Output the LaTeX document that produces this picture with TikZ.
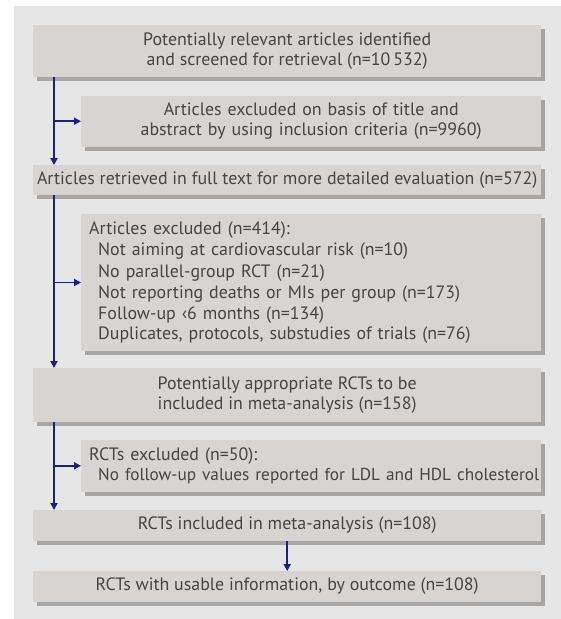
\documentclass[tikz,border=0pt]{standalone}
\usepackage{fontspec}
\setmainfont{PT Sans}
\usetikzlibrary{shadows,arrows.meta}
\definecolor{bggray}{HTML}{E6E6E6}
\definecolor{boxgray}{HTML}{D8D4D1}
\definecolor{shgray}{HTML}{A8A6A4}
\definecolor{txtgray}{HTML}{454545}
\definecolor{navy}{HTML}{1E2277}
\tikzset{
  flowbox/.style={draw=none, fill=boxgray, anchor=north west, inner sep=0pt,
    font=\fontsize{17.9}{20}\selectfont, text=txtgray,
    drop shadow={shadow xshift=4pt, shadow yshift=-4pt, fill=shgray, opacity=1}},
  widebox/.style={flowbox, minimum width=508pt, align=center},
  narrowbox/.style={flowbox, minimum width=460pt, text width=444pt, inner xsep=8pt, align=left},
  flowarrow/.style={draw=navy, line width=1.8pt, -{Triangle[length=7pt,width=7pt]}}
}
\begin{document}
\begin{tikzpicture}[x=1pt,y=-1pt]
\useasboundingbox (0,0) rectangle (561,619);
\fill[bggray] (14,6) rectangle (561,619);
\node[widebox, minimum height=51.7pt] (b1) at (33,25) {Potentially relevant articles identified\\and screened for retrieval (n=10\,532)};
\node[narrowbox, minimum height=51pt, align=center] (b2) at (81,95.7) {Articles excluded on basis of title and\\abstract by using inclusion criteria (n=9960)};
\node[widebox, minimum height=30pt] (b3) at (33,165) {Articles retrieved in full text for more detailed evaluation (n=572)};
\node[narrowbox, minimum height=137pt] (b4) at (81,214) {\fontsize{17.9}{21.4}\selectfont Articles excluded (n=414):\\
\hspace*{9pt}Not aiming at cardiovascular risk (n=10)\\
\hspace*{9pt}No parallel-group RCT (n=21)\\
\hspace*{9pt}Not reporting deaths or MIs per group (n=173)\\
\hspace*{9pt}Follow-up ‹6 months (n=134)\\
\hspace*{9pt}Duplicates, protocols, substudies of trials (n=76)};
\node[widebox, minimum height=53.7pt] (b5) at (33,368) {Potentially appropriate RCTs to be\\included in meta-analysis (n=158)};
\node[narrowbox, minimum height=51.7pt] (b6) at (81,440) {RCTs excluded (n=50):\\
\hspace*{9pt}\makebox[0pt][l]{\fontsize{17.25}{20}\selectfont No follow-up values reported for LDL and HDL cholesterol}};
\node[widebox, minimum height=30.7pt] (b7) at (33,510) {RCTs included in meta-analysis (n=108)};
\node[widebox, minimum height=30.7pt] (b8) at (33,571) {RCTs with usable information, by outcome (n=108)};
% trunk 1
\coordinate (t1a) at (54,76.7);
\coordinate (t1b) at (54,165);
\coordinate (t1m) at (54,121.2);
\draw[flowarrow] (t1a) -- (t1b);
\draw[flowarrow] (t1m) -- (b2.west |- t1m);
% trunk 2
\coordinate (t2a) at (54,195);
\coordinate (t2b) at (54,368);
\coordinate (t2m) at (54,282.5);
\draw[flowarrow] (t2a) -- (t2b);
\draw[flowarrow] (t2m) -- (b4.west |- t2m);
% trunk 3
\coordinate (t3a) at (54,421.7);
\coordinate (t3b) at (54,510);
\coordinate (t3m) at (54,465.8);
\draw[flowarrow] (t3a) -- (t3b);
\draw[flowarrow] (t3m) -- (b6.west |- t3m);
% last
\draw[flowarrow] (b7.south) -- (b8.north);
\end{tikzpicture}
\end{document}
